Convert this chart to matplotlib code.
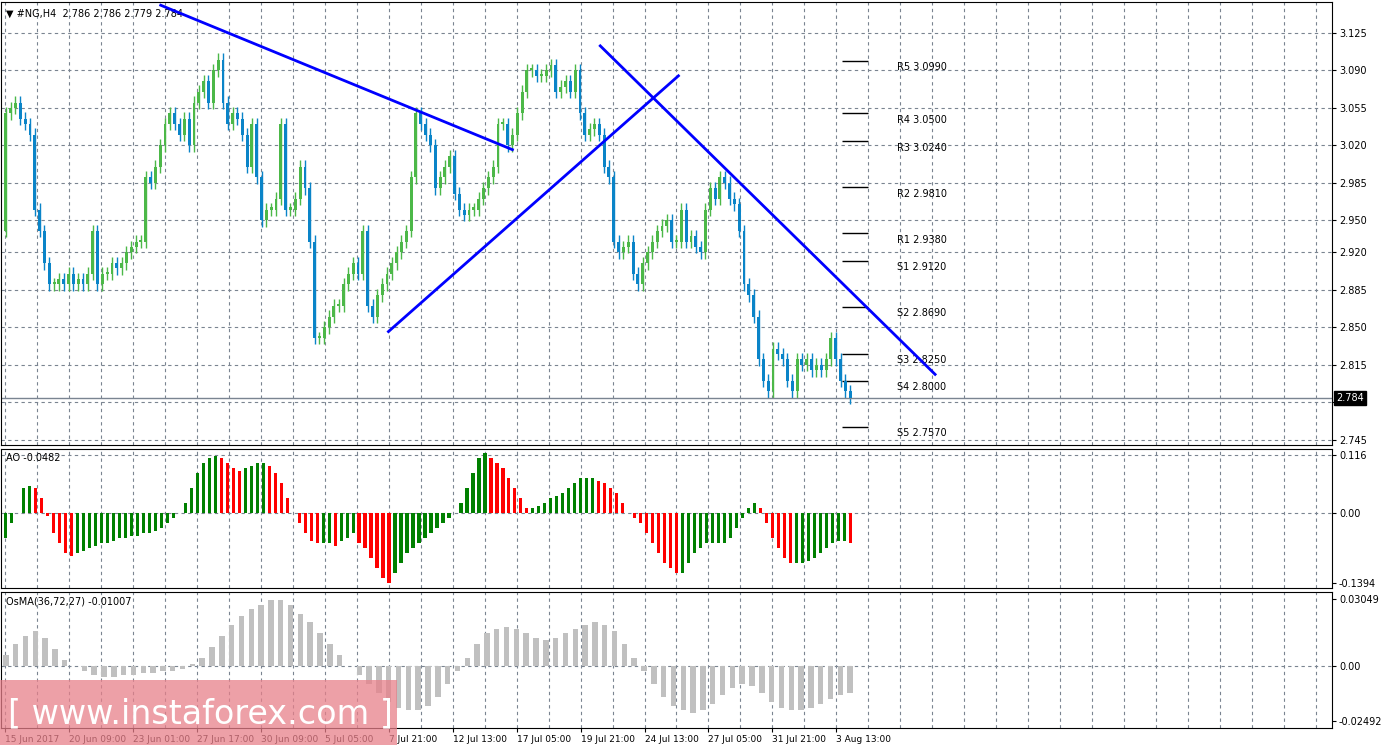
import numpy as np
import matplotlib.pyplot as plt
from matplotlib.patches import Rectangle

# closes of the H4 candles
closes = [3.050, 3.055, 3.060, 3.045, 3.040, 3.030, 2.960, 2.940, 2.910, 2.890,
          2.890, 2.895, 2.890, 2.900, 2.890, 2.895, 2.890, 2.900, 2.940, 2.890,
          2.900, 2.900, 2.910, 2.905, 2.910, 2.920, 2.925, 2.930, 2.930, 2.990,
          2.985, 3.000, 3.020, 3.040, 3.050, 3.040, 3.030, 3.045, 3.020, 3.060,
          3.070, 3.080, 3.060, 3.090, 3.100, 3.060, 3.040, 3.050, 3.045, 3.030,
          3.000, 3.040, 2.990, 2.950, 2.960, 2.960, 2.970, 3.040, 2.960, 2.960,
          2.970, 3.000, 2.980, 2.930, 2.840, 2.840, 2.850, 2.860, 2.870, 2.870,
          2.890, 2.900, 2.910, 2.900, 2.940, 2.870, 2.860, 2.880, 2.890, 2.900,
          2.910, 2.920, 2.930, 2.940, 2.990, 3.050, 3.040, 3.030, 3.020, 2.980,
          2.990, 3.000, 3.010, 2.975, 2.960, 2.955, 2.960, 2.960, 2.970, 2.980,
          2.990, 3.000, 3.040, 3.040, 3.020, 3.030, 3.050, 3.070, 3.090, 3.090,
          3.085, 3.085, 3.090, 3.095, 3.070, 3.075, 3.080, 3.070, 3.090, 3.050,
          3.030, 3.035, 3.040, 3.030, 3.000, 2.990, 2.930, 2.920, 2.925, 2.930,
          2.900, 2.890, 2.910, 2.920, 2.930, 2.940, 2.945, 2.950, 2.930, 2.930,
          2.960, 2.930, 2.935, 2.925, 2.920, 2.960, 2.980, 2.970, 2.990, 2.985,
          2.970, 2.965, 2.940, 2.890, 2.880, 2.860, 2.820, 2.800, 2.790, 2.830,
          2.825, 2.820, 2.800, 2.790, 2.820, 2.815, 2.820, 2.810, 2.815, 2.810,
          2.820, 2.840, 2.820, 2.800, 2.790, 2.784]
first_open = 2.940

ao = [-0.050, -0.020, 0.000, 0.050, 0.055, 0.050, 0.030, -0.005, -0.040, -0.060,
      -0.080, -0.085, -0.080, -0.075, -0.070, -0.065, -0.060, -0.060, -0.055, -0.050,
      -0.050, -0.045, -0.045, -0.040, -0.040, -0.035, -0.030, -0.020, -0.010, 0.000,
      0.020, 0.050, 0.080, 0.100, 0.110, 0.115, 0.110, 0.100, 0.090, 0.085,
      0.090, 0.095, 0.100, 0.100, 0.095, 0.080, 0.060, 0.030, 0.000, -0.020,
      -0.040, -0.055, -0.060, -0.060, -0.060, -0.065, -0.055, -0.050, -0.040, -0.060,
      -0.070, -0.090, -0.110, -0.130, -0.140, -0.120, -0.100, -0.080, -0.070, -0.060,
      -0.050, -0.040, -0.030, -0.020, -0.010, 0.000, 0.020, 0.050, 0.080, 0.110,
      0.120, 0.110, 0.100, 0.090, 0.070, 0.050, 0.030, 0.010, 0.010, 0.015,
      0.020, 0.030, 0.035, 0.040, 0.050, 0.060, 0.070, 0.070, 0.070, 0.065,
      0.060, 0.050, 0.040, 0.020, 0.000, -0.010, -0.020, -0.040, -0.060, -0.080,
      -0.100, -0.110, -0.120, -0.120, -0.100, -0.080, -0.070, -0.060, -0.060, -0.060,
      -0.060, -0.050, -0.030, -0.010, 0.010, 0.020, 0.010, -0.020, -0.050, -0.070,
      -0.090, -0.100, -0.100, -0.100, -0.095, -0.090, -0.080, -0.070, -0.060, -0.055,
      -0.055, -0.060]

osma = [0.005, 0.010, 0.014, 0.016, 0.013, 0.008, 0.003, 0.000, -0.002, -0.004,
        -0.005, -0.005, -0.004, -0.004, -0.003, -0.003, -0.002, -0.002, -0.001, 0.001,
        0.004, 0.009, 0.014, 0.019, 0.023, 0.026, 0.028, 0.030, 0.030, 0.028,
        0.024, 0.020, 0.015, 0.010, 0.005, 0.000, -0.004, -0.008, -0.012, -0.016,
        -0.019, -0.020, -0.020, -0.018, -0.014, -0.008, -0.002, 0.004, 0.010, 0.015,
        0.017, 0.018, 0.017, 0.015, 0.013, 0.012, 0.013, 0.015, 0.017, 0.019,
        0.020, 0.019, 0.016, 0.010, 0.004, -0.002, -0.008, -0.014, -0.018, -0.020,
        -0.021, -0.020, -0.017, -0.013, -0.010, -0.008, -0.009, -0.012, -0.016, -0.019,
        -0.020, -0.020, -0.019, -0.017, -0.015, -0.013, -0.012]

price_ticks = [3.125, 3.090, 3.055, 3.020, 2.985, 2.950, 2.920, 2.885, 2.850, 2.815, 2.780, 2.745]
pivot_names = ['R5', 'R4', 'R3', 'R2', 'R1', 'S1', 'S2', 'S3', 'S4', 'S5']
pivot_levels = [3.0990, 3.0500, 3.0240, 2.9810, 2.9380, 2.9120, 2.8690, 2.8250, 2.8000, 2.7570]
date_labels = ['15 Jun 2017', '20 Jun 09:00', '23 Jun 01:00', '27 Jun 17:00', '30 Jun 09:00',
               '5 Jul 05:00', '7 Jul 21:00', '12 Jul 13:00', '17 Jul 05:00', '19 Jul 21:00',
               '24 Jul 13:00', '27 Jul 05:00', '31 Jul 21:00', '3 Aug 13:00']
# trend lines: (candle index, price) endpoints
trend_lines = [((32.1, 3.151), (105.0, 3.016)),
               ((79.3, 2.846), (139.4, 3.085)),
               ((123.2, 3.113), (192.6, 2.806))]

W, H = 1398, 749
fig = plt.figure(figsize=(W / 100, H / 100), dpi=100)
fig.patch.set_facecolor('white')
plot_w = 1332
n = len(closes)
step = 845 / (n - 1)          # pixels per candle
xmax = plot_w / step


def ax_at(top, bottom):
    return fig.add_axes([1 / W, 1 - bottom / H, (plot_w - 1) / W, (bottom - top) / H])


ax = ax_at(2, 445)
ax_ao = ax_at(449, 588)
ax_os = ax_at(592, 728)

grid_x = np.arange(4, plot_w, 32) / step - 1
for a in (ax, ax_ao, ax_os):
    a.set_xlim(-1, xmax - 1)
    for gx in grid_x:
        a.axvline(gx, color='#7a8491', ls=(0, (3, 3)), lw=0.8, zorder=0)
    a.set_xticks([])
    a.yaxis.tick_right()
    a.tick_params(axis='y', labelsize=7, length=3, pad=2)
    for s in a.spines.values():
        s.set_color('black')

# candles
opens = [first_open] + closes[:-1]
x = np.arange(n)
for i in x:
    o, c = opens[i], closes[i]
    col = '#4cb848' if c >= o else '#0a84c8'
    ax.vlines(i, min(o, c) - 0.006, max(o, c) + 0.006, color=col, lw=1)
    ax.bar(i, max(abs(c - o), 0.002), bottom=min(o, c), width=0.6, color=col, zorder=3)

ax.set_ylim(2.740, 3.154)
ax.set_yticks(price_ticks)
ax.set_yticklabels(['%.3f' % p for p in price_ticks])
for p in price_ticks:
    ax.axhline(p, color='#7a8491', ls=(0, (3, 3)), lw=0.8, zorder=0)
ax.axhline(closes[-1], color='#7a8491', lw=1)
ax.text(1.003, closes[-1], '%.3f' % closes[-1], transform=ax.get_yaxis_transform(),
        fontsize=7, color='white', va='center', ha='left', zorder=20,
        bbox=dict(facecolor='black', edgecolor='black', pad=1.5))

for (x0, y0), (x1, y1) in trend_lines:
    ax.plot([x0, x1], [y0, y1], color='#0000ff', lw=2, zorder=4)

for name, lv in zip(pivot_names, pivot_levels):
    ax.hlines(lv, 842 / step - 1, 868 / step - 1, color='black', lw=1)
    ax.text(897 / step - 1, lv - 0.006, '%s %.4f' % (name, lv), fontsize=7, va='center')

ax.text(0.004, 0.985, '\u25bc #NG,H4  2.786 2.786 2.779 2.784', transform=ax.transAxes,
        fontsize=7, va='top')

# AO
xa = np.linspace(0, n - 1, len(ao))
wa = 0.55 * (xa[1] - xa[0])
ao_col = ['#008000'] + ['#008000' if ao[i] >= ao[i - 1] else '#ff0000' for i in range(1, len(ao))]
ax_ao.bar(xa, ao, width=wa, color=ao_col, zorder=3)
ax_ao.set_ylim(-0.150, 0.128)
ax_ao.set_yticks([0.116, 0.0, -0.1394])
ax_ao.set_yticklabels(['0.116', '0.00', '-0.1394'])
for p in (0.116, 0.0):
    ax_ao.axhline(p, color='#7a8491', ls=(0, (3, 3)), lw=0.8, zorder=0)
ax_ao.text(0.004, 0.97, 'AO -0.0482', transform=ax_ao.transAxes, fontsize=7, va='top')

# OsMA
xo = np.linspace(0, n - 1, len(osma))
wo = 0.55 * (xo[1] - xo[0])
ax_os.bar(xo, osma, width=wo, color='#c0c0c0', zorder=3)
ax_os.set_ylim(-0.028, 0.0338)
ax_os.set_yticks([0.03049, 0.0, -0.02492])
ax_os.set_yticklabels(['0.03049', '0.00', '-0.02492'])
ax_os.axhline(0, color='#7a8491', ls=(0, (3, 3)), lw=0.8, zorder=0)
ax_os.text(0.004, 0.97, 'OsMA(36,72,27) -0.01007', transform=ax_os.transAxes, fontsize=7, va='top')

# date axis
ax_os.set_xticks(grid_x[::2][:len(date_labels)])
ax_os.set_xticklabels(date_labels, fontsize=6.5, ha='left')
ax_os.tick_params(axis='x', length=3, pad=2)

# watermark
fig.patches.append(Rectangle((0, 1 - 745 / H), 397 / W, 65 / H, transform=fig.transFigure,
                             facecolor='#e8808a', alpha=0.75, edgecolor='none', zorder=10))
fig.text(200 / W, 1 - 714 / H, '[ www.instaforex.com ]', color='white', fontsize=24,
         ha='center', va='center', zorder=11)

fig.savefig('out.png', dpi=100)
